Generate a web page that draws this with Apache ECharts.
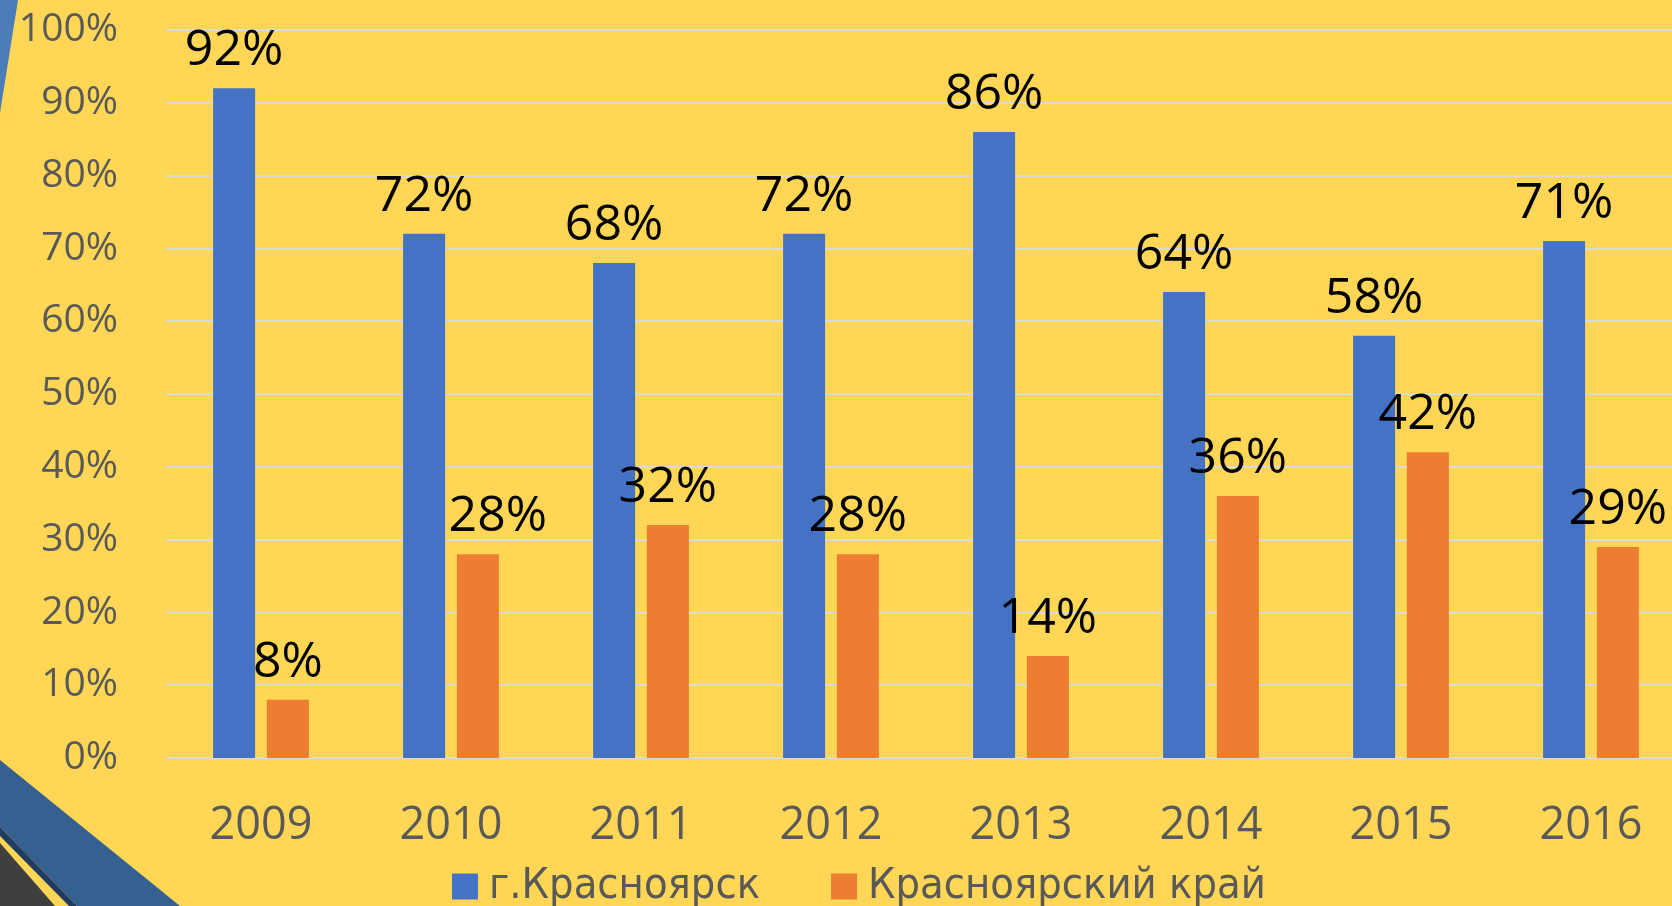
<!DOCTYPE html>
<html>
<head>
<meta charset="utf-8">
<script src="https://cdn.jsdelivr.net/npm/echarts@6/dist/echarts.min.js"></script>
<style>
  html, body { margin: 0; padding: 0; background: #FFD655; }
  #chart { width: 1672px; height: 906px; }
</style>
</head>
<body>
<div id="chart"></div>
<script>
// годы и доли (%)
const years = ["2009", "2010", "2011", "2012", "2013", "2014", "2015", "2016"];
const cityValues = [92, 72, 68, 72, 86, 64, 58, 71];
const regionValues = [8, 28, 32, 28, 14, 36, 42, 29];
const seriesNames = ["г.Красноярск", "Красноярский край"];

const myChart = echarts.init(document.getElementById("chart"));

const labelStyle = {
  show: true,
  position: "top",
  distance: 12,
  color: "#000",
  fontSize: 50,
  fontFamily: "Open Sans",
  formatter: "{c}%"
};

// у 2010 подпись оранжевого столбца сдвинута вправо
const regionData = regionValues.map((v, i) =>
  i === 1 ? { value: v, label: { offset: [20, 0] } } : v
);

myChart.setOption({
  backgroundColor: "#FFD655",
  animation: false,
  // область графика выходит за правый край слайда
  grid: { left: 166, width: 1520, top: 30, bottom: 148, outerBoundsMode: "none", containLabel: false },
  legend: {
    left: 447,
    top: 860,
    itemWidth: 26,
    itemHeight: 26,
    itemGap: 71,
    icon: "rect",
    textStyle: { color: "#595959", fontSize: 43, fontFamily: "DejaVu Sans Condensed", padding: [0, 0, 0, 6] },
    data: seriesNames
  },
  xAxis: {
    type: "category",
    data: years,
    axisLine: { lineStyle: { color: "#D9D9D9", width: 2 } },
    axisTick: { show: false },
    axisLabel: { color: "#595959", fontSize: 45, fontFamily: "Open Sans", margin: 46 }
  },
  yAxis: {
    type: "value",
    min: 0,
    max: 100,
    interval: 10,
    axisLine: { show: false },
    axisTick: { show: false },
    axisLabel: { color: "#595959", fontSize: 39, fontFamily: "Open Sans", margin: 48, formatter: "{value}%" },
    splitLine: { lineStyle: { color: "#D9D9D9", width: 2 } }
  },
  series: [
    {
      name: seriesNames[0],
      type: "bar",
      data: cityValues,
      barWidth: 42,
      barGap: "28%",
      itemStyle: { color: "#4472C4" },
      label: labelStyle
    },
    {
      name: seriesNames[1],
      type: "bar",
      data: regionData,
      barWidth: 42,
      itemStyle: { color: "#ED7D31" },
      label: labelStyle
    }
  ],
  // декоративные полосы по краям слайда
  graphic: [
    { type: "polygon", shape: { points: [[0, 0], [18, 0], [0, 113]] }, style: { fill: "#4A7DBA" }, z: 10 },
    { type: "polygon", shape: { points: [[0, 760], [180, 906], [77, 906], [0, 827]] }, style: { fill: "#36608F" }, z: 10 },
    { type: "polygon", shape: { points: [[0, 827], [77, 906], [69, 906], [0, 836]] }, style: { fill: "#1F3D63" }, z: 10 },
    { type: "polygon", shape: { points: [[0, 843], [55, 906], [0, 906]] }, style: { fill: "#3F3F3F" }, z: 10 }
  ]
});
</script>
</body>
</html>
